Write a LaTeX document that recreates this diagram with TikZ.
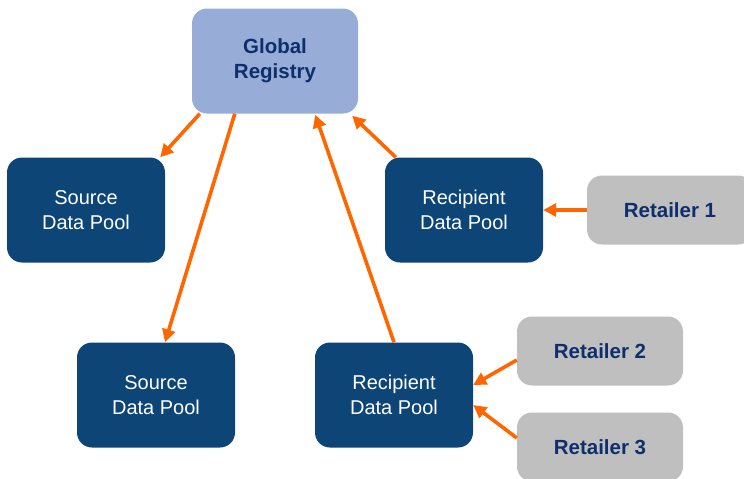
\documentclass[tikz,border=0pt]{standalone}
\usepackage{fontspec}
\setmainfont{Liberation Sans}
\usetikzlibrary{arrows.meta}

\definecolor{poolblue}{HTML}{0C4576}
\definecolor{registryblue}{HTML}{97ACD6}
\definecolor{retailgray}{HTML}{BFBFBF}
\definecolor{labelnavy}{HTML}{0D2F6C}
\definecolor{flow}{HTML}{FF6600}

\tikzset{
  pool/.style={draw=none, fill=poolblue, rounded corners=15pt, text=white,
    minimum width=158pt, minimum height=105pt, inner sep=0pt, align=center,
    font=\fontsize{20}{25}\selectfont},
  registry/.style={pool, fill=registryblue, text=labelnavy, minimum width=166pt,
    font=\fontsize{20.5}{25}\selectfont\bfseries},
  retailer/.style={registry, fill=retailgray, minimum height=69pt},
  flowarrow/.style={draw=flow, line width=3.6pt, -{Triangle[length=13pt,width=13pt]}}
}

\begin{document}
\begin{tikzpicture}[x=1pt, y=-1pt]
            \useasboundingbox (0,0) rectangle (744,479);

            % Nodes with manual coordinates
            \node[registry] (gr) at (275,61) {Global\\Registry};
            \node[pool] (src1) at (86,210) {Source\\Data Pool};
            \node[pool] (rcp1) at (464,210) {Recipient\\Data Pool};
            \node[pool] (src2) at (156,395) {Source\\Data Pool};
            \node[pool] (rcp2) at (394,395) {Recipient\\Data Pool};
            \node[retailer] (ret1) at (670,210) {Retailer 1};
            \node[retailer] (ret2) at (600,351) {Retailer 2};
            \node[retailer] (ret3) at (600,447) {Retailer 3};

            % Edges
            \draw[flowarrow] ([xshift=8pt]gr.south west) -- ([xshift=-5pt]src1.north east);
            \draw[flowarrow] ([xshift=43pt]gr.south west) -- ([xshift=9pt]src2.north);
            \draw[flowarrow] ([xshift=11pt]rcp1.north west) -- ([xshift=-6pt,yshift=-2pt]gr.south east);
            \draw[flowarrow] (rcp2.north) -- ([xshift=-43pt,yshift=-1pt]gr.south east);
            \draw[flowarrow] (ret1.west) -- (rcp1.east);
            \draw[flowarrow] ([yshift=-9pt]ret2.west) -- ([yshift=10pt]rcp2.east);
            \draw[flowarrow] ([yshift=9pt]ret3.west) -- ([yshift=-10pt]rcp2.east);
        \end{tikzpicture}
\end{document}
